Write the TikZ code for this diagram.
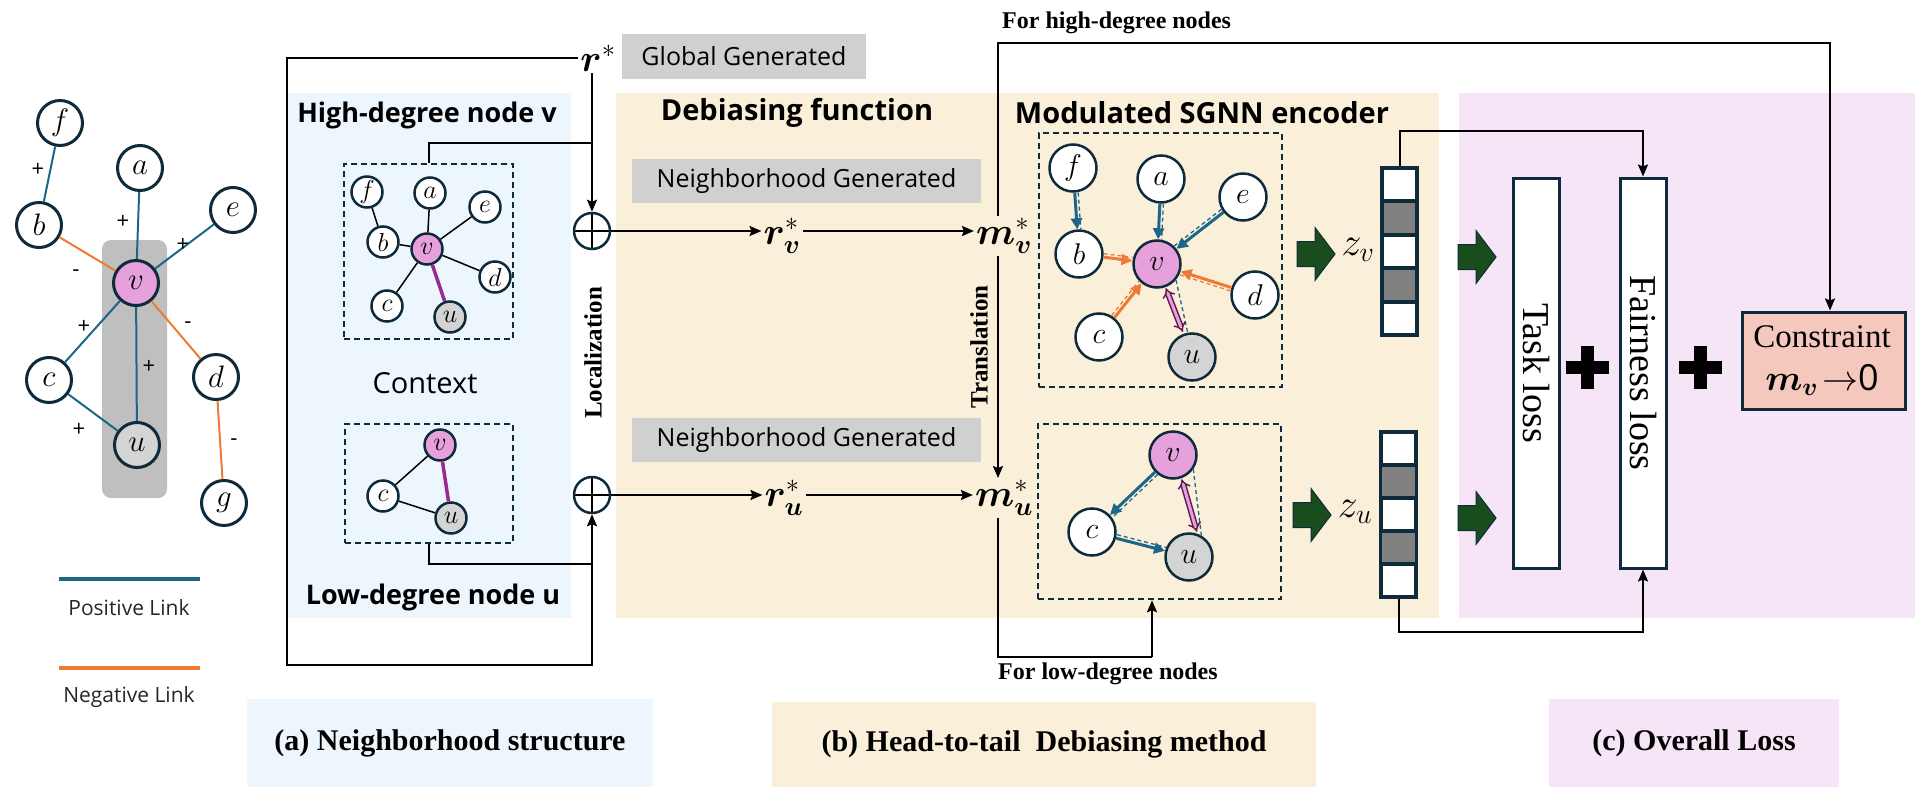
\RequirePackage{fix-cm}
\documentclass[tikz,border=0pt]{standalone}
\usepackage{amsmath}
\usepackage{bm}
\usepackage{fontspec}
\newfontfamily\osans{Open Sans}
\newfontfamily\tser{Liberation Serif}
\usetikzlibrary{arrows.meta,calc}
\definecolor{panA}{HTML}{EEF6FD}
\definecolor{panB}{HTML}{FAF0DA}
\definecolor{panC}{HTML}{F6E5F6}
\definecolor{lblgray}{HTML}{D0D0D0}
\definecolor{navy}{HTML}{0E2A3B}
\definecolor{vpink}{HTML}{E6A0DC}
\definecolor{ugray}{HTML}{D4D4D4}
\definecolor{posblue}{HTML}{1C6688}
\definecolor{negorange}{HTML}{EE7A35}
\definecolor{hpurple}{HTML}{9B2A8E}
\definecolor{dpurple}{HTML}{5E1A52}
\definecolor{gdark}{HTML}{1A4D1E}
\definecolor{constr}{HTML}{F4C8BC}
\definecolor{cellgray}{HTML}{808080}
\definecolor{hilite}{HTML}{BFBFBF}
\newcommand{\setfs}[1]{\fontsize{#1}{#1}\selectfont}
\newcommand{\garr}[2]{\draw[fill=gdark, draw=navy, line width=1pt] (#1,#2-12.5) -- ++(18,0) -- ++(0,-14) -- ++(20,26.5) -- ++(-20,26.5) -- ++(0,-14) -- ++(-18,0) -- cycle;}
\newcommand{\bigplus}[2]{\fill[black] (#1-21.5,#2-6.5) rectangle (#1+21.5,#2+6.5); \fill[black] (#1-6.5,#2-21.5) rectangle (#1+6.5,#2+21.5);}
\begin{document}
\begin{tikzpicture}[x=1pt,y=-1pt,
  gnode/.style={circle, draw=navy, line width=3pt, fill=white, minimum size=45pt, inner sep=0pt, font=\setfs{31}},
  snode/.style={circle, draw=navy, line width=2.5pt, fill=white, minimum size=31pt, inner sep=0pt, font=\setfs{26}},
  enode/.style={circle, draw=navy, line width=2.5pt, fill=white, minimum size=47pt, inner sep=0pt, font=\setfs{30}},
  hv/.style={fill=vpink}, lu/.style={fill=ugray},
  poslink/.style={draw=posblue, line width=2pt},
  neglink/.style={draw=negorange, line width=2pt},
  signlbl/.style={font=\osans\setfs{22}, inner sep=0pt},
  legtxt/.style={font=\osans\setfs{21}, text=black!85, inner sep=0pt},
  dbox/.style={rectangle, draw=navy, line width=2.5pt, dash pattern=on 6pt off 4pt, inner sep=0pt},
  ttl/.style={font=\osans\bfseries\setfs{27}, inner sep=0pt},
  hdr/.style={font=\osans\bfseries\setfs{29}, inner sep=0pt},
  gbox/.style={fill=lblgray, font=\osans\setfs{25}, inner sep=0pt},
  capbox/.style={font=\tser\bfseries\setfs{30}, inner sep=0pt},
  mth/.style={font=\setfs{38}, inner sep=2pt},
  vlbl/.style={font=\tser\bfseries\setfs{25}, inner sep=0pt},
  forlbl/.style={font=\tser\bfseries\setfs{24}, inner sep=0pt},
  ln/.style={line width=2pt, black},
  arr/.style={-{Stealth[length=12pt,width=10pt,inset=2pt]}},
  oplus/.style={circle, draw=navy, line width=2.5pt, minimum size=36pt, inner sep=0pt,
    path picture={\draw[black, line width=2pt] (path picture bounding box.north) -- (path picture bounding box.south) (path picture bounding box.west) -- (path picture bounding box.east);}},
  thinl/.style={line width=1.5pt, black},
  hlink/.style={line width=3.5pt, hpurple},
  earr/.style={line width=3pt, -{Triangle[length=11pt,width=11pt]}},
  dsh/.style={line width=1.3pt, dash pattern=on 4pt off 3pt},
  dbl/.style={draw=dpurple, double=vpink, double distance=3pt, line width=1.5pt, {Implies}-{Implies}},
  vecbox/.style={rectangle, draw=navy, line width=4pt, fill=white, minimum width=35pt, inner sep=0pt},
  lossbox/.style={rectangle, draw=navy, line width=3pt, fill=white, minimum width=46pt, minimum height=390pt, inner sep=0pt},
  losstxt/.style={font=\tser\setfs{38}, inner sep=0pt, rotate=-90},
  zl/.style={font=\setfs{40}, inner sep=0pt}
]
\useasboundingbox (0,0) rectangle (1920,800);

% ---------- panels ----------
\fill[panA] (287,93) rectangle (571,618);
\fill[panB] (616,93) rectangle (1439,618);
\fill[panC] (1459,93) rectangle (1915,618);

\node[capbox, fill=panA, minimum width=406pt, minimum height=88pt] (capa) at (450,743) {(a) Neighborhood structure};
\node[capbox, fill=panB, minimum width=544pt, minimum height=85pt] (capb) at (1044,744.5) {(b) Head-to-tail\ \ Debiasing method};
\node[capbox, fill=panC, minimum width=290pt, minimum height=88pt] (capc) at (1694,743) {(c) Overall Loss};

% ---------- left signed graph ----------
\fill[hilite, rounded corners=9pt] (102,240) rectangle (167,498);
\node[gnode] (f) at (60,123) {$f$};
\node[gnode] (a) at (140,168) {$a$};
\node[gnode] (b) at (39,225) {$b$};
\node[gnode] (e) at (233,210) {$e$};
\node[gnode, hv] (v) at (136,283) {$v$};
\node[gnode] (c) at (49,380) {$c$};
\node[gnode] (d) at (216,377) {$d$};
\node[gnode, lu] (u) at (137,445) {$u$};
\node[gnode] (g) at (224,503) {$g$};
\draw[poslink] (f) -- (b);
\draw[poslink] (a) -- (v);
\draw[poslink] (e) -- (v);
\draw[neglink] (b) -- (v);
\draw[poslink] (v) -- (c);
\draw[poslink] (v) -- (u);
\draw[neglink] (v) -- (d);
\draw[poslink] (c) -- (u);
\draw[neglink] (d) -- (g);
\node[signlbl] (s1) at (38,170) {+};
\node[signlbl] (s2) at (123,222) {+};
\node[signlbl] (s3) at (183,245) {+};
\node[signlbl] (s4) at (76,273) {-};
\node[signlbl] (s5) at (84,327) {+};
\node[signlbl] (s6) at (149,367) {+};
\node[signlbl] (s7) at (188,325) {-};
\node[signlbl] (s8) at (79,430) {+};
\node[signlbl] (s9) at (234,442) {-};

% legend
\coordinate (lp1) at (59,579); \coordinate (lp2) at (200,579);
\draw[posblue, line width=4pt] (lp1) -- (lp2);
\node[legtxt] (lpt) at (129,608) {Positive Link};
\coordinate (ln1) at (59,668); \coordinate (ln2) at (200,668);
\draw[negorange, line width=4pt] (ln1) -- (ln2);
\node[legtxt] (lnt) at (129,697) {Negative Link};

% ---------- panel (a) ----------
\node[ttl] (hdt) at (427,115) {High-degree node v};
\node[dbox, minimum width=169pt, minimum height=175pt] (hbox) at (428.5,251.5) {};
\node[snode] (sF) at (367,192) {$f$};
\node[snode] (sA) at (430,193) {$a$};
\node[snode] (sE) at (485,207) {$e$};
\node[snode] (sB) at (383,242) {$b$};
\node[snode, hv] (sV) at (427,249) {$v$};
\node[snode] (sD) at (495,277) {$d$};
\node[snode] (sC) at (387,306) {$c$};
\node[snode, lu] (sU) at (450,317) {$u$};
\draw[thinl] (sF) -- (sB);
\draw[thinl] (sA) -- (sV);
\draw[thinl] (sE) -- (sV);
\draw[thinl] (sB) -- (sV);
\draw[thinl] (sD) -- (sV);
\draw[thinl] (sC) -- (sV);
\draw[hlink] (sV) -- (sU);

\node[font=\osans\setfs{29}, inner sep=0pt] (ctx) at (425,383) {Context};

\node[dbox, minimum width=168pt, minimum height=119pt] (lbox) at (429,483.5) {};
\node[snode, hv] (tV) at (440,445) {$v$};
\node[snode] (tC) at (383,496) {$c$};
\node[snode, lu] (tU) at (451,518) {$u$};
\draw[thinl] (tC) -- (tV);
\draw[thinl] (tC) -- (tU);
\draw[hlink] (tV) -- (tU);
\node[ttl] (ldt) at (433,597) {Low-degree node u};

% ---------- global / localization ----------
\node[mth] (rstar) at (598,58) {$\bm{r}^{*}$};
\node[gbox, minimum width=244pt, minimum height=45pt] (glob) at (744,56.5) {Global Generated};
\node[oplus] (op1) at (592,231) {};
\node[oplus] (op2) at (592,495) {};
\node[vlbl, rotate=90] (loc) at (593,353) {Localization};
\coordinate (lc) at (287,665);
\coordinate (jn1) at (592,143);
\coordinate (jn2) at (592,564);
\draw[ln, arr] (rstar.west) -- (rstar.west -| lc) -- (lc) -- (lc -| op2) -- (op2.south);
\draw[ln, arr] (rstar.south -| op1) -- (op1.north);
\draw[ln] (hbox.north) |- (jn1);
\draw[ln] (lbox.south) |- (jn2);

% ---------- panel (b) ----------
\node[hdr] (dbt) at (797,113) {Debiasing function};
\node[hdr] (mst) at (1202,113) {Modulated SGNN encoder};
\node[gbox, minimum width=349pt, minimum height=44pt] (ng1) at (806.5,181) {Neighborhood Generated};
\node[gbox, minimum width=349pt, minimum height=44pt] (ng2) at (806.5,440) {Neighborhood Generated};
\node[mth] (rv) at (782,236) {$\bm{r}_{\bm{v}}^{*}$};
\node[mth] (ru) at (784,498) {$\bm{r}_{\bm{u}}^{*}$};
\node[mth] (mv) at (1004,236) {$\bm{m}_{\bm{v}}^{*}$};
\node[mth] (mu) at (1004,498) {$\bm{m}_{\bm{u}}^{*}$};
\draw[ln, arr] (op1.east) -- (op1.east -| rv.west);
\draw[ln, arr] (op2.east) -- (op2.east -| ru.west);
\draw[ln, arr] (rv.east |- op1.east) -- (mv.west |- op1.east);
\draw[ln, arr] (ru.east |- op2.east) -- (mu.west |- op2.east);
\coordinate (trx) at (998,0);
\draw[ln, arr] (mv.south -| trx) -- (mu.north -| trx);
\node[vlbl, rotate=90] (trl) at (979,347) {Translation};

\coordinate (topR) at (1830,43);
\node[forlbl, anchor=west] (fhd) at (1002,23) {For high-degree nodes};

% encoder high
\node[dbox, minimum width=243pt, minimum height=254pt] (encH) at (1160.5,260) {};
\node[enode] (eF) at (1073,168) {$f$};
\node[enode] (eA) at (1161,179) {$a$};
\node[enode] (eE) at (1243,197) {$e$};
\node[enode] (eB) at (1079,254) {$b$};
\node[enode, hv] (eV) at (1157,264) {$v$};
\node[enode] (eD) at (1255,295) {$d$};
\node[enode] (eC) at (1099,337) {$c$};
\node[enode, lu] (eU) at (1192,357) {$u$};
\draw[earr, posblue] (eF) -- (eB);
\draw[dsh, posblue, transform canvas={shift={(3.5,0)}}] (eF) -- (eB);
\draw[earr, posblue] (eA) -- (eV);
\draw[dsh, posblue, transform canvas={shift={(3.5,0)}}] (eA) -- (eV);
\draw[earr, posblue] (eE) -- (eV);
\draw[dsh, posblue, transform canvas={shift={(-2,-3)}}] (eE) -- (eV);
\draw[earr, negorange] (eB) -- (eV);
\draw[dsh, negorange, transform canvas={shift={(0,-3.5)}}] (eB) -- (eV);
\draw[earr, negorange] (eC) -- (eV);
\draw[dsh, negorange, transform canvas={shift={(-2.7,-2.2)}}] (eC) -- (eV);
\draw[earr, negorange] (eD) -- (eV);
\draw[dsh, negorange, transform canvas={shift={(-1,3.3)}}] (eD) -- (eV);
\draw[dsh, posblue] (eV.-40) -- (eU.100);
\draw[dbl, shorten <=1pt, shorten >=2pt] (eV.-70) -- (eU.110);

% encoder low
\node[dbox, minimum width=243pt, minimum height=175pt] (encL) at (1159.5,511.5) {};
\node[enode, hv] (lV) at (1173,455) {$v$};
\node[enode] (lC) at (1092,532) {$c$};
\node[enode, lu] (lU) at (1189,557) {$u$};
\draw[earr, posblue] (lV) -- (lC);
\draw[dsh, posblue, transform canvas={shift={(2.5,2.5)}}] (lV) -- (lC);
\draw[earr, posblue] (lC) -- (lU);
\draw[dsh, posblue, transform canvas={shift={(1,-3.5)}}] (lC) -- (lU);
\draw[dsh, posblue] (lV.-35) -- (lU.60);
\draw[dbl, shorten <=1pt, shorten >=2pt] (lV.-70) -- (lU.70);

\coordinate (botL) at (1152,657);
\draw[ln] (mu.south -| trx) |- (botL);
\draw[ln, arr] (botL) -- (botL |- encL.south);
\node[forlbl, anchor=west] (fld) at (998,674) {For low-degree nodes};

% embeddings
\garr{1297}{254}
\garr{1293}{515}
\node[zl] (zvl) at (1358,250) {$z_{v}$};
\node[zl] (zul) at (1355,512) {$z_{u}$};

\node[vecbox, minimum height=167pt] (zv) at (1399.5,251.5) {};
\fill[cellgray] (1384,203.4) rectangle (1415,232.8);
\fill[cellgray] (1384,270.2) rectangle (1415,299.6);
\foreach \k in {1,...,4} \draw[navy, line width=4pt] (1382,168+33.4*\k) -- (1417,168+33.4*\k);

\node[vecbox, minimum height=165pt] (zu) at (1398.5,514.5) {};
\fill[cellgray] (1382,467) rectangle (1415,496);
\fill[cellgray] (1382,533) rectangle (1415,562);
\foreach \k in {1,...,4} \draw[navy, line width=4pt] (1380,432+33*\k) -- (1417,432+33*\k);

% ---------- panel (c) ----------
\garr{1458}{257}
\garr{1458}{518}
\node[lossbox] (task) at (1536,373) {};
\node[losstxt] (taskt) at (task.center) {Task loss};
\node[lossbox] (fair) at (1643,373) {};
\node[losstxt] (fairt) at (fair.center) {Fairness loss};
\bigplus{1587}{367}
\bigplus{1700}{367}
\node[rectangle, draw=navy, line width=3pt, fill=constr, minimum width=163pt, minimum height=97pt, inner sep=0pt] (cbox) at (1823.5,360.5) {};
\node[font=\tser\setfs{33}, inner sep=0pt] (ct1) at (1822,337) {Constraint};
\node[font=\setfs{36}, inner sep=0pt] (ct2) at (1822,380) {$\bm{m}_{\bm{v}}\!\rightarrow\!$\,{\osans 0}};

\draw[ln, arr] (mv.north -| trx) |- (topR) -- (topR |- cbox.north);
\draw[ln, arr] (zv.north) -- ++(0,-35) -| (fair.north);
\draw[ln, arr] (zu.south) -- ++(0,33) -| (fair.south);
\end{tikzpicture}
\end{document}
